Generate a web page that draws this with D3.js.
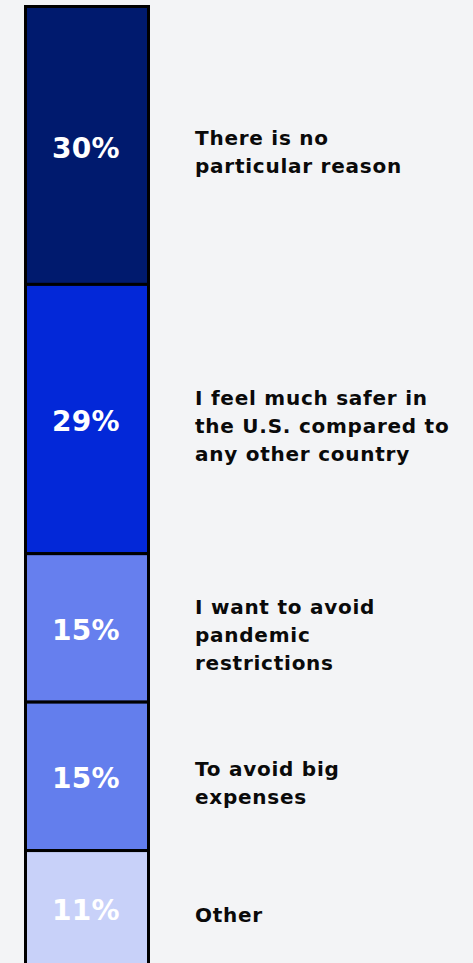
<!DOCTYPE html>
<html>
<head>
<meta charset="utf-8">
<script src="https://cdn.jsdelivr.net/npm/d3@7/dist/d3.min.js"></script>
<style>
  html, body { margin: 0; padding: 0; background: #f3f4f6; }
  svg { display: block; }
</style>
</head>
<body>
<svg id="chart" width="473" height="963"></svg>
<script>
// Survey answers, top to bottom of the stacked bar
const reasons = [
  ["There is no", "particular reason"],
  ["I feel much safer in", "the U.S. compared to", "any other country"],
  ["I want to avoid", "pandemic", "restrictions"],
  ["To avoid big", "expenses"],
  ["Other"]
];
const shares = [30, 29, 15, 15, 11];
const fills = ["#001a6e", "#0328d8", "#667fee", "#637eed", "#c8d1f9"];

// Bar geometry
const barX = 25.5, barW = 123;
const barTop = 6.5, barBottom = 964.5;
const minSeg = 19;            // every segment keeps a minimum height
const labelX = 195;
const lineH = 28;
const font = "'DejaVu Sans', Verdana, sans-serif";

const svg = d3.select("#chart");

const total = d3.sum(shares);
const h = d3.scaleLinear()
  .domain([0, total])
  .range([0, (barBottom - barTop) - minSeg * shares.length]);

// cumulative segment layout
let acc = barTop;
const segs = shares.map((v, i) => {
  const height = minSeg + h(v);
  const s = { v, i, y: acc, height, lines: reasons[i], fill: fills[i] };
  acc += height;
  return s;
});

const g = svg.append("g");

g.selectAll("rect.seg")
  .data(segs)
  .join("rect")
  .attr("class", "seg")
  .attr("x", barX)
  .attr("y", d => d.y)
  .attr("width", barW)
  .attr("height", d => d.height)
  .attr("fill", d => d.fill)
  .attr("stroke", "#000")
  .attr("stroke-width", 3);

// percentage inside each segment
g.selectAll("text.pct")
  .data(segs)
  .join("text")
  .attr("class", "pct")
  .attr("x", barX + barW / 2 - 1)
  .attr("y", d => d.y + d.height / 2 + 2)
  .attr("dy", "0.36em")
  .attr("text-anchor", "middle")
  .attr("fill", "#fff")
  .style("font-family", font)
  .style("font-weight", 700)
  .style("font-size", "28px")
  .style("letter-spacing", "0.3px")
  .text(d => d.v + "%");

// answer text to the right
const labels = g.selectAll("text.reason")
  .data(segs)
  .join("text")
  .attr("class", "reason")
  .attr("x", labelX)
  .attr("y", d => d.y + d.height / 2 + 14 - (d.lines.length - 1) * lineH / 2)
  .attr("dy", "0.36em")
  .attr("fill", "#0a0a0a")
  .style("font-family", font)
  .style("font-weight", 700)
  .style("font-size", "20px")
  .style("letter-spacing", "0.75px");

labels.selectAll("tspan")
  .data(d => d.lines)
  .join("tspan")
  .attr("x", labelX)
  .attr("dy", (d, j) => j === 0 ? 0 : lineH)
  .text(d => d);
</script>
</body>
</html>
